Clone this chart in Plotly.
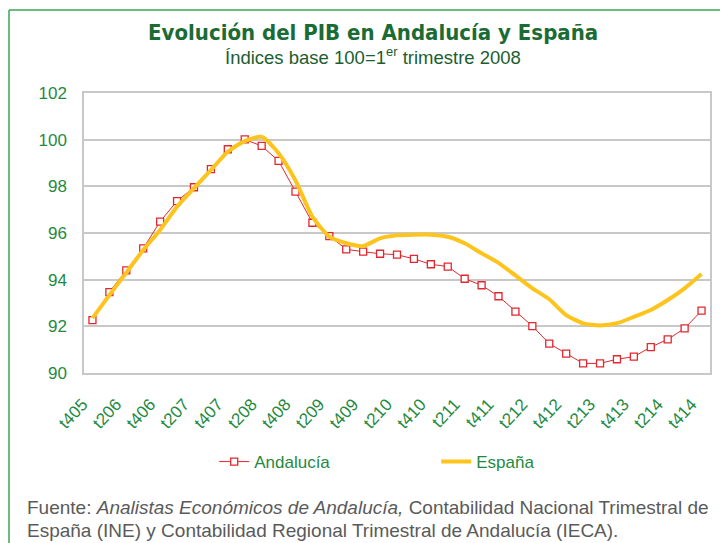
import plotly.graph_objects as go

quarters = []
for y in range(5, 15):
    for q in range(1, 5):
        if y == 5 and q < 4:
            continue
        quarters.append(f"t{q}{y:02d}")

andalucia = [92.27, 93.47, 94.40, 95.34, 96.49, 97.37, 97.96, 98.74, 99.59, 100.01,
             99.73, 99.09, 97.77, 96.44, 95.87, 95.30, 95.20, 95.11, 95.07, 94.89,
             94.66, 94.56, 94.04, 93.76, 93.29, 92.63, 92.01, 91.26, 90.83, 90.41,
             90.41, 90.59, 90.70, 91.11, 91.44, 91.91, 92.67]
espana = [92.35, 93.34, 94.30, 95.27, 96.13, 97.13, 97.92, 98.70, 99.48, 99.94,
          100.12, 99.42, 98.25, 96.70, 95.84, 95.56, 95.44, 95.77, 95.90, 95.93,
          95.93, 95.84, 95.56, 95.13, 94.72, 94.18, 93.63, 93.16, 92.48, 92.13,
          92.04, 92.13, 92.41, 92.70, 93.13, 93.63, 94.24]
tick_labels = quarters[::2]
y_ticks = [90, 92, 94, 96, 98, 100, 102]

GREEN = "#1f8a3f"
fig = go.Figure()
fig.add_trace(go.Scatter(
    x=quarters, y=andalucia, name="Andalucía", mode="lines+markers",
    line=dict(color="#e0282e", width=1),
    marker=dict(symbol="square", size=7, color="white", line=dict(color="#e0282e", width=1.3)),
))
fig.add_trace(go.Scatter(
    x=quarters, y=espana, name="España", mode="lines",
    line=dict(color="#fdc41d", width=4, shape="spline", smoothing=0.6),
))

fig.update_layout(
    width=720, height=535,
    margin=dict(l=76, r=18, t=85, b=170),
    paper_bgcolor="white", plot_bgcolor="white",
    font=dict(family="Liberation Sans, Arial", color=GREEN),
    showlegend=True,
    legend=dict(orientation="h", x=0.208, xanchor="left", y=-0.318, yanchor="middle",
                font=dict(size=17, color=GREEN), entrywidth=177, entrywidthmode="pixels",
                itemwidth=30, traceorder="normal"),
    xaxis=dict(type="category", categoryorder="array", categoryarray=quarters,
               tickmode="array", tickvals=tick_labels, ticktext=tick_labels,
               tickangle=-47, tickfont=dict(size=17, color=GREEN), automargin=False,
               ticklabelstandoff=13, ticklabelshift=-10,
               showgrid=False, showline=True, linecolor="#c8c8c8", linewidth=1.5, mirror=True,
               ticks="", range=[-0.5, len(quarters) - 0.5]),
    yaxis=dict(range=[90, 102], tickvals=y_ticks, tickfont=dict(size=17, color=GREEN),
               showgrid=True, gridcolor="#c8c8c8", gridwidth=1.5, automargin=False,
               showline=True, linecolor="#c8c8c8", linewidth=1.5, mirror=True,
               ticks="", ticklabelstandoff=12, zeroline=False),
)

fig.add_annotation(text="<b>Evolución del PIB en Andalucía y España</b>", xref="paper", yref="paper",
                   x=0.462, y=1.216, xanchor="center", yanchor="middle", showarrow=False,
                   font=dict(family="DejaVu Sans Condensed, sans-serif", size=22, color="#1b6b35"))
fig.add_annotation(text="Índices base 100=1<sup>er</sup> trimestre 2008", xref="paper", yref="paper",
                   x=0.462, y=1.132, xanchor="center", yanchor="middle", showarrow=False,
                   font=dict(family="Liberation Sans, Arial", size=18.5, color="#1b5e30"))
fig.add_annotation(text="Fuente: <i>Analistas Económicos de Andalucía,</i> Contabilidad Nacional Trimestral de",
                   xref="paper", yref="paper", x=-0.0942, y=-0.482, xanchor="left", yanchor="middle",
                   align="left", showarrow=False,
                   font=dict(family="Liberation Sans, Arial", size=19, color="#5a5a5a"))
fig.add_annotation(text="España (INE) y Contabilidad Regional Trimestral de Andalucía (IECA).",
                   xref="paper", yref="paper", x=-0.0942, y=-0.561, xanchor="left", yanchor="middle",
                   align="left", showarrow=False,
                   font=dict(family="Liberation Sans, Arial", size=19, color="#5a5a5a"))

fig.add_shape(type="line", xref="paper", yref="paper", x0=-0.1198, x1=1.05, y0=1.296, y1=1.296,
              line=dict(color="#3aa655", width=1.5))
fig.add_shape(type="line", xref="paper", yref="paper", x0=-0.1198, x1=-0.1198, y0=1.296, y1=-0.65,
              line=dict(color="#3aa655", width=1.5))

fig.write_html("out.html")
